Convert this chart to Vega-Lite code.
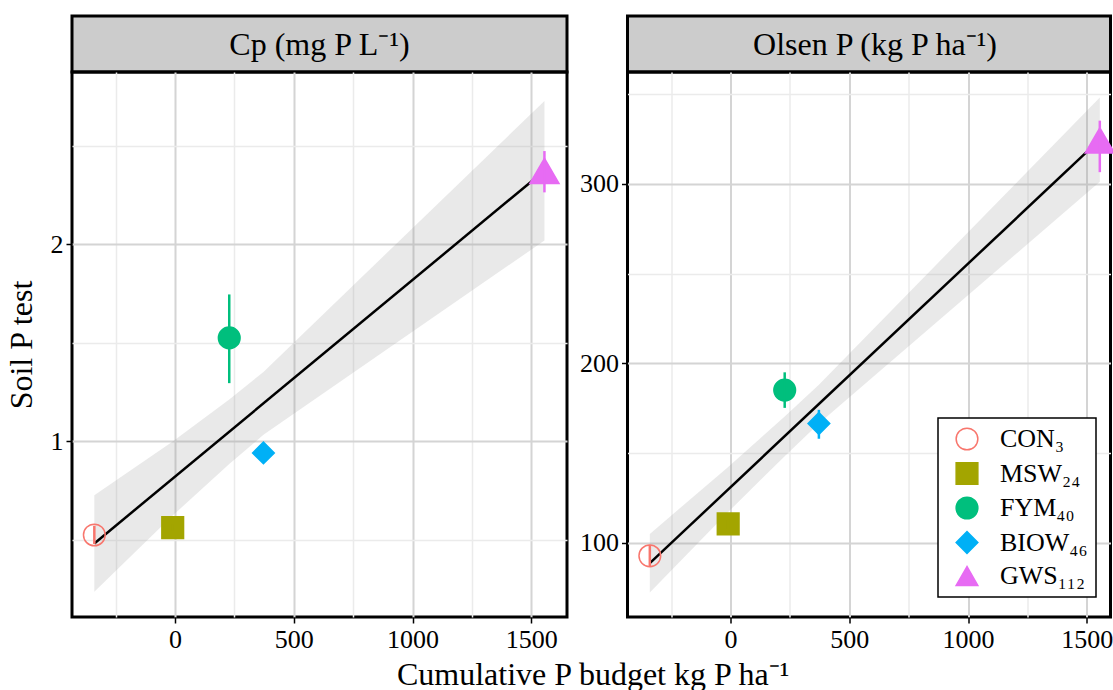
{
  "$schema": "https://vega.github.io/schema/vega-lite/v6.json",
  "padding": {"left": 3, "top": 14, "right": 1, "bottom": 5},
  "background": "white",
  "datasets": {
    "pts": [
      {"panel": "Cp", "trt": "CON₃", "x": -340, "y": 0.523, "lo": 0.477, "hi": 0.57},
      {"panel": "Cp", "trt": "MSW₂₄", "x": -10, "y": 0.56, "lo": 0.545, "hi": 0.575},
      {"panel": "Cp", "trt": "FYM₄₀", "x": 228, "y": 1.525, "lo": 1.295, "hi": 1.746},
      {"panel": "Cp", "trt": "BIOW₄₆", "x": 372, "y": 0.94, "lo": 0.93, "hi": 0.955},
      {"panel": "Cp", "trt": "GWS₁₁₂", "x": 1555, "y": 2.374, "lo": 2.265, "hi": 2.475},
      {"panel": "Olsen", "trt": "CON₃", "x": -340, "y": 92.8, "lo": 86.8, "hi": 98.9},
      {"panel": "Olsen", "trt": "MSW₂₄", "x": -10, "y": 110.6, "lo": 108, "hi": 113},
      {"panel": "Olsen", "trt": "FYM₄₀", "x": 228, "y": 185.1, "lo": 175.2, "hi": 195.0},
      {"panel": "Olsen", "trt": "BIOW₄₆", "x": 372, "y": 166.5, "lo": 158, "hi": 174.1},
      {"panel": "Olsen", "trt": "GWS₁₁₂", "x": 1555, "y": 324.2, "lo": 306.5, "hi": 335.2}
    ],
    "fit": [
      {"panel": "Cp", "x": -340, "y": 0.48},
      {"panel": "Cp", "x": 1555, "y": 2.375},
      {"panel": "Olsen", "x": -340, "y": 88.7},
      {"panel": "Olsen", "x": 1555, "y": 324.6}
    ],
    "band": [
      {"panel": "Cp", "x": -340, "lo": 0.235, "hi": 0.725},
      {"panel": "Cp", "x": -10, "lo": 0.622, "hi": 0.998},
      {"panel": "Cp", "x": 228, "lo": 0.884, "hi": 1.212},
      {"panel": "Cp", "x": 372, "lo": 1.032, "hi": 1.352},
      {"panel": "Cp", "x": 1555, "lo": 2.02, "hi": 2.73},
      {"panel": "Olsen", "x": -340, "lo": 72.4, "hi": 105.0},
      {"panel": "Olsen", "x": -10, "lo": 117.2, "hi": 142.3},
      {"panel": "Olsen", "x": 228, "lo": 148.3, "hi": 170.4},
      {"panel": "Olsen", "x": 372, "lo": 166.5, "hi": 188.1},
      {"panel": "Olsen", "x": 1555, "lo": 301.1, "hi": 348.1}
    ],
    "stripCp": [{"label": "Cp (mg P L⁻¹)"}],
    "stripOlsen": [{"label": "Olsen P (kg P ha⁻¹)"}]
  },
  "title": {
    "text": "Cumulative P budget kg P ha⁻¹",
    "orient": "bottom",
    "anchor": "middle",
    "fontSize": 32,
    "fontWeight": "normal",
    "color": "black",
    "offset": 6,
    "dx": 32
  },
  "columns": 2,
  "spacing": {"row": 0, "column": 60.5},
  "bounds": "flush",
  "resolve": {"scale": {"x": "independent", "y": "independent"}},
  "concat": [
    {
      "width": 495,
      "height": 56,
      "view": {"fill": "#cccccc", "stroke": "black", "strokeWidth": 3},
      "data": {"name": "stripCp"},
      "mark": {"type": "text", "fontSize": 32, "align": "center", "baseline": "middle", "color": "black", "dy": 1},
      "encoding": {"text": {"field": "label", "type": "nominal"}}
    },
    {
      "width": 483,
      "height": 56,
      "view": {"fill": "#cccccc", "stroke": "black", "strokeWidth": 3},
      "data": {"name": "stripOlsen"},
      "mark": {"type": "text", "fontSize": 32, "align": "center", "baseline": "middle", "color": "black", "dy": 1, "dx": 6},
      "encoding": {"text": {"field": "label", "type": "nominal"}}
    },
    {
      "width": 495,
      "height": 545,
      "view": {"stroke": "black", "strokeWidth": 3},
      "resolve": {"axis": {"x": "independent", "y": "independent"}},
      "layer": [
        {
          "data": {"name": "band"},
          "transform": [{"filter": "datum.panel === 'Cp'"}],
          "mark": {"type": "area", "color": "#999999", "opacity": 0.22},
          "encoding": {
            "x": {"field": "x", "type": "quantitative", "scale": {"domain": [-434, 1650], "nice": false, "zero": false},
                  "axis": {"orient": "bottom", "values": [-250, 250, 750, 1250], "grid": true, "gridColor": "#ebebeb", "gridWidth": 1.5, "labels": false, "ticks": false, "domain": false, "title": null}},
            "y": {"field": "lo", "type": "quantitative", "scale": {"domain": [0.106, 2.877], "nice": false, "zero": false},
                  "axis": {"orient": "left", "values": [0.5, 1.5, 2.5], "grid": true, "gridColor": "#ebebeb", "gridWidth": 1.5, "labels": false, "ticks": false, "domain": false, "title": null}},
            "y2": {"field": "hi"}
          }
        },
        {
          "data": {"name": "fit"},
          "transform": [{"filter": "datum.panel === 'Cp'"}],
          "mark": {"type": "line", "color": "black", "strokeWidth": 2.5},
          "encoding": {
            "x": {"field": "x", "type": "quantitative",
                  "axis": {"orient": "bottom", "values": [0, 500, 1000, 1500], "format": "d", "grid": true, "title": null}},
            "y": {"field": "y", "type": "quantitative",
                  "axis": {"orient": "left", "values": [1, 2], "format": "d", "grid": true, "title": "Soil P test", "titlePadding": 12}}
          }
        },
        {
          "data": {"name": "pts"},
          "transform": [{"filter": "datum.panel === 'Cp'"}],
          "mark": {"type": "point", "strokeWidth": 1.5, "opacity": 1},
          "encoding": {
            "x": {"field": "x", "type": "quantitative", "axis": null},
            "y": {"field": "y", "type": "quantitative", "axis": null},
            "stroke": {"field": "trt", "type": "nominal", "scale": {"domain": ["CON₃", "MSW₂₄", "FYM₄₀", "BIOW₄₆", "GWS₁₁₂"], "range": ["#F8766D", "#A3A500", "#00BF7D", "#00B0F6", "#E76BF3"]}, "legend": {"title": null}},
            "fill": {"field": "trt", "type": "nominal", "scale": {"domain": ["CON₃", "MSW₂₄", "FYM₄₀", "BIOW₄₆", "GWS₁₁₂"], "range": ["transparent", "#A3A500", "#00BF7D", "#00B0F6", "#E76BF3"]}, "legend": {"title": null}},
            "shape": {"field": "trt", "type": "nominal", "scale": {"domain": ["CON₃", "MSW₂₄", "FYM₄₀", "BIOW₄₆", "GWS₁₁₂"], "range": ["circle", "square", "circle", "diamond", "triangle-up"]}, "legend": {"title": null}},
            "size": {"condition": {"test": "datum.trt === 'GWS₁₁₂'", "value": 850}, "value": 470}
          }
        },
        {
          "data": {"name": "pts"},
          "transform": [{"filter": "datum.panel === 'Cp'"}],
          "mark": {"type": "rule", "strokeWidth": 2.5},
          "encoding": {
            "x": {"field": "x", "type": "quantitative", "axis": null},
            "y": {"field": "lo", "type": "quantitative", "axis": null},
            "y2": {"field": "hi"},
            "stroke": {"field": "trt", "type": "nominal", "legend": {"title": null}}
          }
        },
        {
          "mark": {"type": "rule", "color": "black", "strokeWidth": 1.5, "strokeDash": [6, 5]},
          "encoding": {"x": {"datum": 0, "type": "quantitative", "axis": null}}
        }
      ]
    },
    {
      "width": 483,
      "height": 545,
      "view": {"stroke": "black", "strokeWidth": 3},
      "resolve": {"axis": {"x": "independent", "y": "independent"}},
      "layer": [
        {
          "data": {"name": "band"},
          "transform": [{"filter": "datum.panel === 'Olsen'"}],
          "mark": {"type": "area", "color": "#999999", "opacity": 0.22},
          "encoding": {
            "x": {"field": "x", "type": "quantitative", "scale": {"domain": [-434, 1600], "nice": false, "zero": false},
                  "axis": {"orient": "bottom", "values": [-250, 250, 750, 1250], "grid": true, "gridColor": "#ebebeb", "gridWidth": 1.5, "labels": false, "ticks": false, "domain": false, "title": null}},
            "y": {"field": "lo", "type": "quantitative", "scale": {"domain": [58.7, 362.3], "nice": false, "zero": false},
                  "axis": {"orient": "left", "values": [150, 250, 350], "grid": true, "gridColor": "#ebebeb", "gridWidth": 1.5, "labels": false, "ticks": false, "domain": false, "title": null}},
            "y2": {"field": "hi"}
          }
        },
        {
          "data": {"name": "fit"},
          "transform": [{"filter": "datum.panel === 'Olsen'"}],
          "mark": {"type": "line", "color": "black", "strokeWidth": 2.5},
          "encoding": {
            "x": {"field": "x", "type": "quantitative",
                  "axis": {"orient": "bottom", "values": [0, 500, 1000, 1500], "format": "d", "grid": true, "title": null}},
            "y": {"field": "y", "type": "quantitative",
                  "axis": {"orient": "left", "values": [100, 200, 300], "format": "d", "grid": true, "title": null}}
          }
        },
        {
          "data": {"name": "pts"},
          "transform": [{"filter": "datum.panel === 'Olsen'"}],
          "mark": {"type": "point", "strokeWidth": 1.5, "opacity": 1},
          "encoding": {
            "x": {"field": "x", "type": "quantitative", "axis": null},
            "y": {"field": "y", "type": "quantitative", "axis": null},
            "stroke": {"field": "trt", "type": "nominal", "legend": {"title": null}},
            "fill": {"field": "trt", "type": "nominal", "legend": {"title": null}},
            "shape": {"field": "trt", "type": "nominal", "legend": {"title": null}},
            "size": {"condition": {"test": "datum.trt === 'GWS₁₁₂'", "value": 850}, "value": 470}
          }
        },
        {
          "data": {"name": "pts"},
          "transform": [{"filter": "datum.panel === 'Olsen'"}],
          "mark": {"type": "rule", "strokeWidth": 2.5},
          "encoding": {
            "x": {"field": "x", "type": "quantitative", "axis": null},
            "y": {"field": "lo", "type": "quantitative", "axis": null},
            "y2": {"field": "hi"},
            "stroke": {"field": "trt", "type": "nominal", "legend": {"title": null}}
          }
        },
        {
          "mark": {"type": "rule", "color": "black", "strokeWidth": 1.5, "strokeDash": [6, 5]},
          "encoding": {"x": {"datum": 0, "type": "quantitative", "axis": null}}
        }
      ]
    }
  ],
  "config": {
    "font": "Liberation Serif",
    "axis": {
      "labelFontSize": 26,
      "labelColor": "black",
      "labelPadding": 3,
      "tickColor": "black",
      "tickSize": 6,
      "tickWidth": 1.5,
      "domain": false,
      "gridColor": "#d4d4d4",
      "gridWidth": 2,
      "titleFontSize": 32,
      "titleFontWeight": "normal",
      "titleColor": "black"
    },
    "legend": {
      "orient": "none",
      "legendX": 866,
      "legendY": 402,
      "strokeColor": "black",
      "strokeWidth": 1.5,
      "fillColor": "white",
      "padding": 8,
      "rowPadding": 6.5,
      "labelFontSize": 26,
      "labelColor": "black",
      "labelOffset": 20,
      "symbolOffset": 8,
      "symbolSize": 470,
      "symbolStrokeWidth": 1.5
    }
  }
}
